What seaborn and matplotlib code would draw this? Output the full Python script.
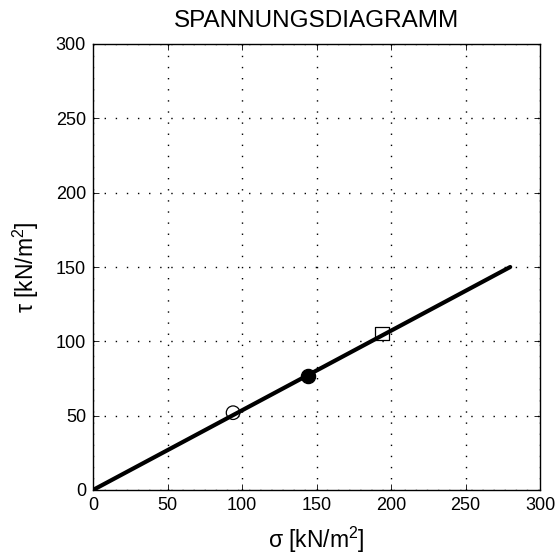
import matplotlib
matplotlib.use("Agg")
import matplotlib.pyplot as plt
import seaborn as sns
import pandas as pd

line_sigma = [0, 280]
line_tau = [0, 150]
pt_sigma = [94, 144, 194]
pt_tau = [52, 77, 105]
pt_kind = ["open", "filled", "square"]
ticks = [0, 50, 100, 150, 200, 250, 300]

sns.set_theme(style="white")
plt.rcParams['font.family'] = ['Liberation Sans', 'DejaVu Sans']
plt.rcParams['mathtext.fontset'] = 'custom'
plt.rcParams['mathtext.rm'] = 'Liberation Sans'

fig = plt.figure(figsize=(5.57, 5.56), dpi=100)
ax = fig.add_axes([93/557, 66/556, 447/557, 446/556])

df_line = pd.DataFrame({"sigma": line_sigma, "tau": line_tau})
sns.lineplot(data=df_line, x="sigma", y="tau", ax=ax, color="black", linewidth=3.0, zorder=3)

styles = {"open": dict(marker="o", facecolor="none", s=95, z=2),
          "filled": dict(marker="o", facecolor="black", s=105, z=4),
          "square": dict(marker="s", facecolor="none", s=90, z=2)}
for x, y, k in zip(pt_sigma, pt_tau, pt_kind):
    st = styles[k]
    sns.scatterplot(x=[x], y=[y], ax=ax, marker=st["marker"], s=st["s"],
                    facecolor=st["facecolor"], edgecolor="black", linewidth=0.9, zorder=st["z"])

ax.set_xlim(0, 300)
ax.set_ylim(0, 300)
ax.set_xticks(ticks)
ax.set_yticks(ticks)
ax.tick_params(direction="in", length=4, width=0.6, colors="black", labelsize=13,
               top=True, right=True, bottom=True, left=True, pad=5)
ax.grid(True, linestyle=(0, (1, 7)), color="black", linewidth=1.0)
for sp in ax.spines.values():
    sp.set_color("black")
    sp.set_linewidth(1.0)
ax.set_xlabel(r"σ [kN/m$^2$]", fontsize=16.5, color="black", labelpad=8)
ax.set_ylabel(r"τ [kN/m$^2$]", fontsize=16.5, color="black", labelpad=11)
ax.set_title("SPANNUNGSDIAGRAMM", fontsize=17.5, color="black", pad=12)

fig.savefig("out.png", dpi=100)
